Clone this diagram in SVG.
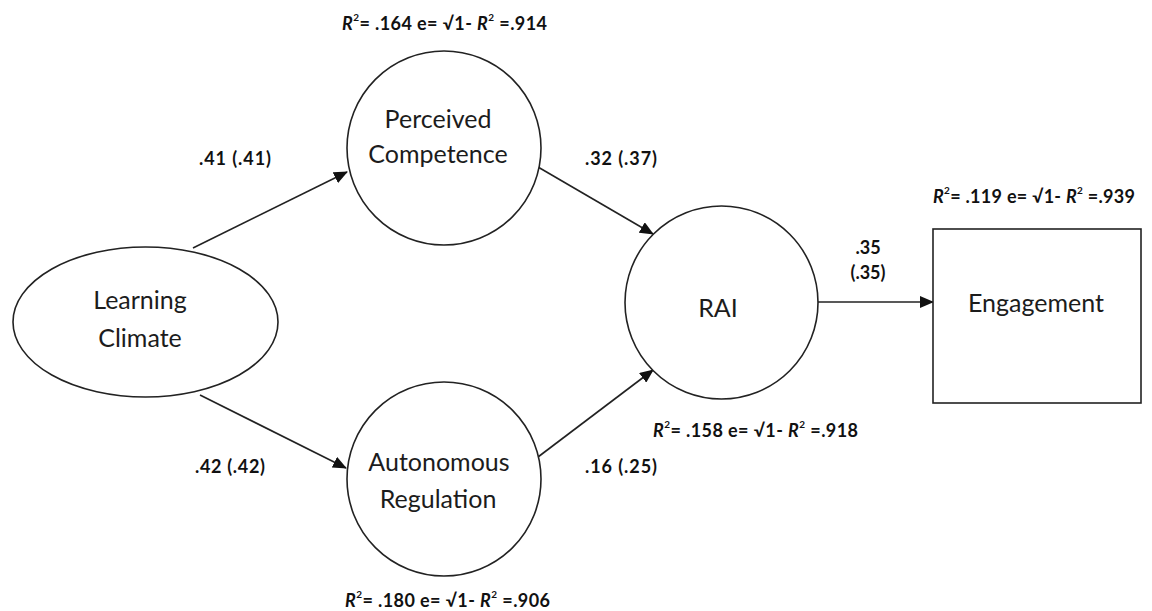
<svg xmlns="http://www.w3.org/2000/svg" width="1152" height="611" viewBox="0 0 1152 611">
  <style>
    .shape { fill: #ffffff; stroke: #222222; stroke-width: 1.6; }
    .edge { fill: none; stroke: #222222; stroke-width: 1.6; marker-end: url(#arrow); }
    .name { font-family: Lato, "Liberation Sans", sans-serif; font-size: 25px; fill: #1c1c1c; text-anchor: middle; }
    .coef { font-family: Lato, "Liberation Sans", sans-serif; font-size: 18px; font-weight: bold; fill: #111111; }
    .r2 { font-family: Lato, "Liberation Sans", sans-serif; font-size: 18px; font-weight: bold; fill: #111111; }
    .it { font-style: italic; }
    .sup { font-size: 10px; }
  </style>
  <defs>
    <marker id="arrow" markerUnits="userSpaceOnUse" markerWidth="14" markerHeight="12" viewBox="0 0 14 12" refX="13" refY="6" orient="auto">
      <path d="M0,0 L14,6 L0,12 Z" fill="#111111"/>
    </marker>
  </defs>

  <!-- paths between constructs -->
  <g id="connectors">
    <line class="edge" x1="193" y1="248" x2="347" y2="172"/>
    <line class="edge" x1="200" y1="395" x2="346" y2="468"/>
    <line class="edge" x1="538" y1="167" x2="653" y2="234"/>
    <line class="edge" x1="538" y1="457" x2="653" y2="370"/>
    <line class="edge" x1="818" y1="302" x2="933" y2="302"/>
  </g>

  <!-- path coefficients -->
  <g id="coefficients">
    <text class="coef" x="199" y="165" textLength="72">.41 (.41)</text>
    <text class="coef" x="195" y="473" textLength="70">.42 (.42)</text>
    <text class="coef" x="585" y="165" textLength="72">.32 (.37)</text>
    <text class="coef" x="585" y="473" textLength="72">.16 (.25)</text>
    <text class="coef" x="868" y="254" text-anchor="middle">.35</text>
    <text class="coef" x="868" y="279" text-anchor="middle">(.35)</text>
  </g>

  <g id="learning-climate">
    <ellipse class="shape" cx="145.5" cy="322" rx="132.5" ry="75"/>
    <text class="name" x="140" y="309">Learning</text>
    <text class="name" x="140" y="347">Climate</text>
  </g>

  <g id="perceived-competence">
    <circle class="shape" cx="444" cy="148" r="97"/>
    <text class="name" x="438" y="128">Perceived</text>
    <text class="name" x="438" y="163">Competence</text>
    <text class="r2" x="342" y="30" textLength="205"><tspan class="it">R</tspan><tspan class="sup" dy="-9">2</tspan><tspan dy="9">= .164 e= √1- </tspan><tspan class="it">R</tspan><tspan class="sup" dy="-9">2</tspan><tspan dy="9"> =.914</tspan></text>
  </g>

  <g id="autonomous-regulation">
    <circle class="shape" cx="444" cy="479" r="97"/>
    <text class="name" x="439" y="471">Autonomous</text>
    <text class="name" x="438" y="508">Regulation</text>
    <text class="r2" x="345" y="607" textLength="205"><tspan class="it">R</tspan><tspan class="sup" dy="-9">2</tspan><tspan dy="9">= .180 e= √1- </tspan><tspan class="it">R</tspan><tspan class="sup" dy="-9">2</tspan><tspan dy="9"> =.906</tspan></text>
  </g>

  <g id="rai">
    <circle class="shape" cx="721.5" cy="302.5" r="96.5"/>
    <text class="name" x="718" y="317">RAI</text>
    <text class="r2" x="653" y="437" textLength="205"><tspan class="it">R</tspan><tspan class="sup" dy="-9">2</tspan><tspan dy="9">= .158 e= √1- </tspan><tspan class="it">R</tspan><tspan class="sup" dy="-9">2</tspan><tspan dy="9"> =.918</tspan></text>
  </g>

  <g id="engagement">
    <rect class="shape" x="933" y="229" width="208" height="174"/>
    <text class="name" x="1036" y="312">Engagement</text>
    <text class="r2" x="933" y="203" textLength="202"><tspan class="it">R</tspan><tspan class="sup" dy="-9">2</tspan><tspan dy="9">= .119 e= √1- </tspan><tspan class="it">R</tspan><tspan class="sup" dy="-9">2</tspan><tspan dy="9"> =.939</tspan></text>
  </g>
</svg>
